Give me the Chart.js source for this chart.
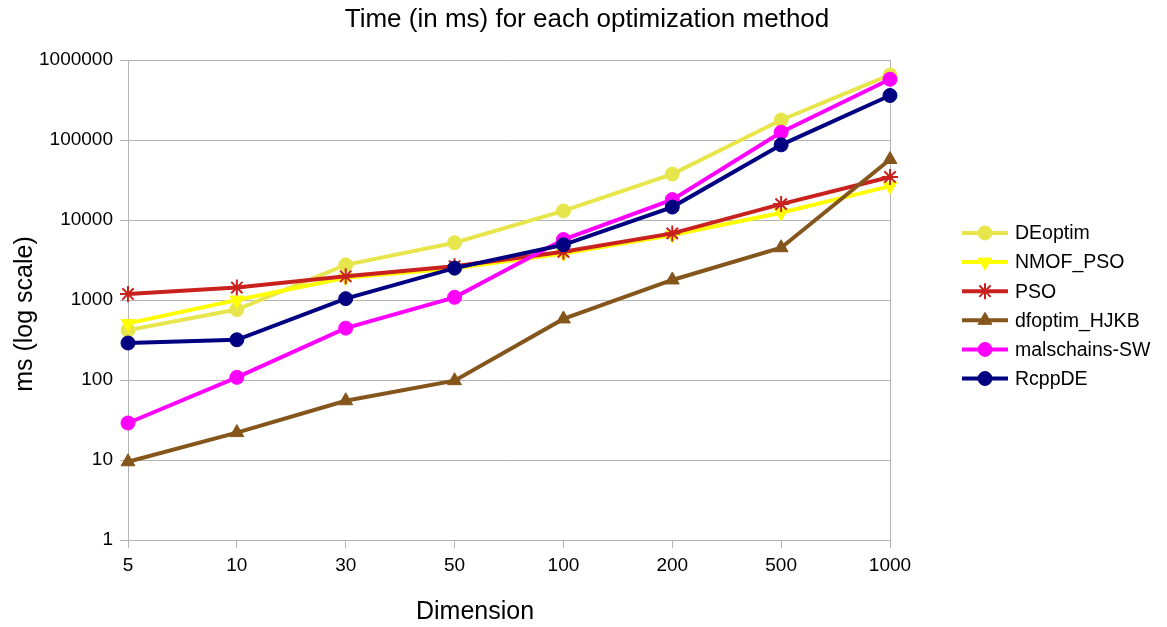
<!DOCTYPE html>
<html>
<head>
<meta charset="utf-8">
<script src="https://cdn.jsdelivr.net/npm/chart.js@4/dist/chart.umd.min.js"></script>
<style>
    html, body { margin: 0; padding: 0; background: #fff; }
    #wrap { width: 1167px; height: 627px; }
</style>
</head>
<body>
<div id="wrap"><canvas id="timeChart" width="1167" height="627"></canvas></div>
<script>
// Dimensions on the x axis
const dimensions = ['5', '10', '30', '50', '100', '200', '500', '1000'];

// Time in ms
const deoptim     = [420, 760, 2750, 5200, 13000, 37500, 178000, 650000];
const nmofPso     = [510, 1000, 1900, 2500, 3800, 6500, 12300, 26500];
const pso         = [1190, 1430, 1980, 2650, 4000, 6800, 15800, 34500];
const dfoptimHjkb = [9.5, 22, 55, 98, 580, 1780, 4500, 57000];
const malschains  = [29, 108, 445, 1080, 5700, 18000, 125000, 575000];
const rcppDe      = [290, 318, 1040, 2500, 4900, 14500, 87000, 360000];

const yTicks = [1, 10, 100, 1000, 10000, 100000, 1000000];

const chartTitle = 'Time (in ms) for each optimization method';
const xTitle = 'Dimension';
const yTitle = 'ms (log scale)';

const FONT = '"Liberation Sans", Arial, sans-serif';
const GRID = '#b3b3b3';

function makeSeries(label, data, color, style, order, extra) {
    return Object.assign({
        label: label,
        data: data,
        borderColor: color,
        backgroundColor: color,
        borderWidth: 4,
        tension: 0,
        pointStyle: style,
        pointRadius: 7,
        pointHoverRadius: 7,
        pointBorderWidth: 1,
        pointBackgroundColor: color,
        pointBorderColor: color,
        order: order
    }, extra || {});
}

const datasets = [
    makeSeries('DEoptim', deoptim, '#e6e64c', 'circle', 5),
    makeSeries('NMOF_PSO', nmofPso, '#ffff00', 'triangle', 4, { pointRadius: 8, pointRotation: 180 }),
    makeSeries('PSO', pso, '#c9211e', 'star', 3, { pointRadius: 8, pointBorderWidth: 2 }),
    makeSeries('dfoptim_HJKB', dfoptimHjkb, '#85561b', 'triangle', 2, { pointRadius: 8 }),
    makeSeries('malschains-SW', malschains, '#ff00ff', 'circle', 1),
    makeSeries('RcppDE', rcppDe, '#000080', 'circle', 0)
];

// titles placed where the office chart puts them (not centred on the plot)
const pageTitles = {
    id: 'pageTitles',
    afterDraw(chart) {
        const ctx = chart.ctx;
        ctx.save();
        ctx.fillStyle = '#000';
        ctx.textAlign = 'center';
        ctx.textBaseline = 'middle';
        ctx.font = '26px ' + FONT;
        ctx.fillText(chartTitle, 587, 20);
        ctx.font = '25px ' + FONT;
        ctx.fillText(xTitle, 475, 612);
        ctx.translate(25, 314);
        ctx.rotate(-Math.PI / 2);
        ctx.fillText(yTitle, 0, 0);
        ctx.restore();
    }
};

// legend drawn as line + marker, like the office chart
const lineLegend = {
    id: 'lineLegend',
    afterDraw(chart) {
        const ctx = chart.ctx;
        const x0 = 962, x1 = 1008, top = 233, step = 29.1;
        ctx.save();
        chart.data.datasets.forEach((ds, i) => {
            const y = top + i * step;
            ctx.strokeStyle = ds.borderColor;
            ctx.lineWidth = 4;
            ctx.beginPath();
            ctx.moveTo(x0, y);
            ctx.lineTo(x1, y);
            ctx.stroke();
            ctx.fillStyle = ds.pointBackgroundColor;
            ctx.strokeStyle = ds.pointBorderColor;
            ctx.lineWidth = ds.pointBorderWidth;
            Chart.helpers.drawPoint(ctx, {
                pointStyle: ds.pointStyle,
                rotation: ds.pointRotation || 0,
                radius: ds.pointRadius,
                borderWidth: ds.pointBorderWidth
            }, (x0 + x1) / 2, y);
            ctx.fillStyle = '#000';
            ctx.font = '19.5px ' + FONT;
            ctx.textBaseline = 'middle';
            ctx.textAlign = 'left';
            ctx.fillText(ds.label, 1015, y + 1);
        });
        ctx.restore();
    }
};

const chart = new Chart(document.getElementById('timeChart'), {
    type: 'line',
    data: { labels: dimensions, datasets: datasets },
    options: {
        responsive: false,
        animation: false,
        layout: { padding: { left: 10, right: 277, top: 60, bottom: 0 } },
        plugins: {
            legend: { display: false },
            tooltip: { enabled: false },
            title: { display: false }
        },
        scales: {
            x: {
                type: 'category',
                offset: false,
                afterFit(scale) { scale.height = 87; },
                border: { color: GRID, width: 1 },
                grid: {
                    color: c => (c.index === dimensions.length - 1 ? GRID : 'rgba(0,0,0,0)'),
                    tickColor: GRID,
                    tickLength: 8
                },
                ticks: {
                    color: '#000',
                    padding: 6,
                    maxRotation: 0,
                    font: { family: FONT, size: 19 }
                }
            },
            y: {
                type: 'logarithmic',
                min: 1,
                max: 1000000,
                afterFit(scale) { scale.width = 118; },
                afterBuildTicks(scale) {
                    scale.ticks = yTicks.map(v => ({ value: v }));
                },
                border: { color: GRID, width: 1 },
                grid: { color: GRID, tickColor: GRID, tickLength: 8 },
                ticks: {
                    color: '#000',
                    padding: 7,
                    font: { family: FONT, size: 19 },
                    callback: v => String(v)
                }
            }
        }
    },
    plugins: [pageTitles, lineLegend]
});
</script>
</body>
</html>
